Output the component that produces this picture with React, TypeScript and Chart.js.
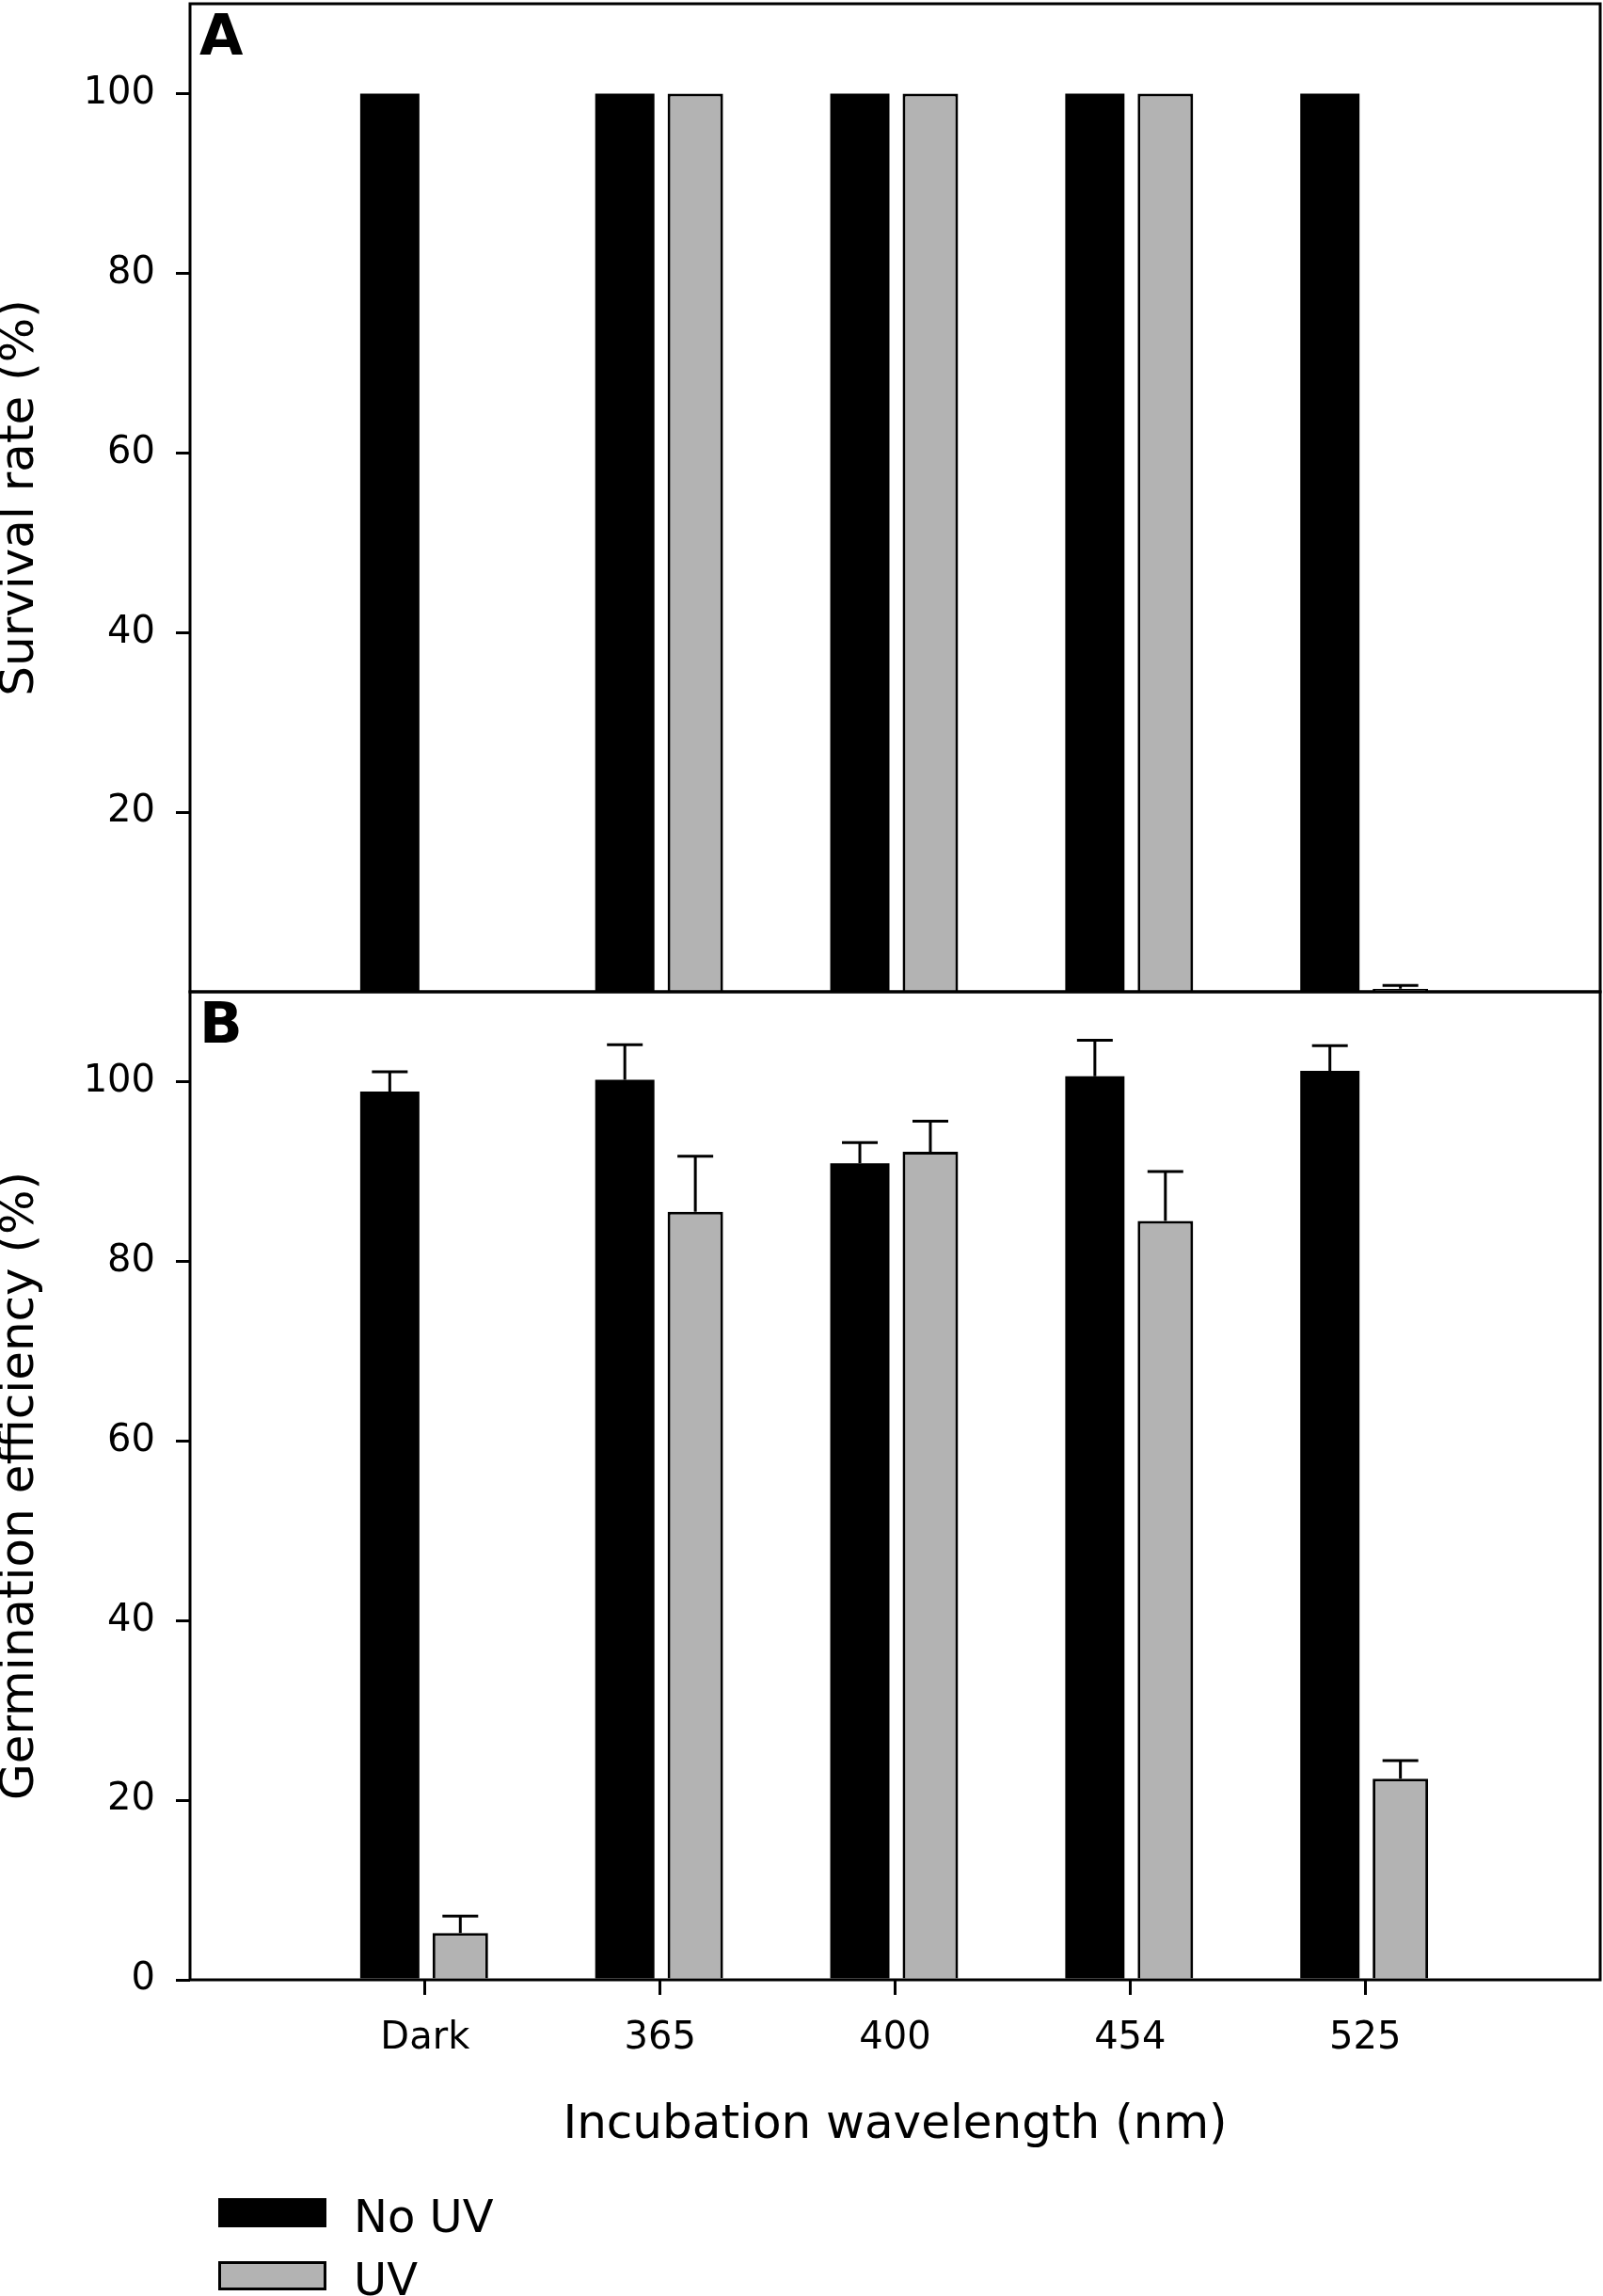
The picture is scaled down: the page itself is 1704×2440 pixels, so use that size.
import React, { useEffect, useRef } from 'react';
import { Chart, registerables } from 'chart.js';

Chart.register(...registerables);

// ---------- data ----------
const categories = ['Dark', '365', '400', '454', '525'];
const seriesNames = ['No UV', 'UV'];
const panelLabels = ['A', 'B'];
const axisTitles = ['Survival rate (%)', 'Germination efficiency (%)'];
const xTitle = 'Incubation wavelength (nm)';

const survivalNoUV = [100, 100, 100, 100, 100];
const survivalNoUVErr = [0, 0, 0, 0, 0];
const survivalUV = [null, 100, 100, 100, 0.35];
const survivalUVErr = [0, 0, 0, 0, 0.35];

const germNoUV = [98.9, 100.2, 90.9, 100.6, 101.2];
const germNoUVErr = [2.2, 3.9, 2.3, 4.0, 2.8];
const germUV = [5.2, 85.5, 92.2, 84.5, 22.4];
const germUVErr = [1.9, 6.2, 3.4, 5.5, 2.0];

const yTicksA = [20, 40, 60, 80, 100];
const yTicksB = [0, 20, 40, 60, 80, 100];
const yMin = 0;
const yMax = 110;

// ---------- styles ----------
const FONT = "'DejaVu Sans', 'Verdana', sans-serif";
const NO_UV_COLOR = '#000000';
const UV_COLOR = '#b3b3b3';
const W = 1704;

Chart.defaults.font.family = FONT;
Chart.defaults.color = '#000';

const xLabels = ['', ...categories, ''];
const pad = (arr: (number | null)[]) => [null, ...arr, null];

const framePlugin = {
  id: 'frame',
  afterDatasetsDraw(chart: any, _args: any, opts: any) {
    const { ctx, chartArea } = chart;
    const { left, top, right, bottom } = chartArea;
    ctx.save();
    ctx.strokeStyle = '#000';
    ctx.lineWidth = 3;
    ctx.strokeRect(left, top, right - left, bottom - top);
    ctx.fillStyle = '#000';
    ctx.font = `bold 60px ${FONT}`;
    ctx.textAlign = 'left';
    ctx.textBaseline = 'alphabetic';
    ctx.fillText(opts.label, left + 10, top + 54);
    ctx.restore();
  },
};

const errorBarPlugin = {
  id: 'errorBars',
  afterDatasetsDraw(chart: any) {
    const { ctx } = chart;
    const yScale = chart.scales.y;
    ctx.save();
    ctx.strokeStyle = '#000';
    ctx.lineWidth = 3;
    chart.data.datasets.forEach((ds: any, i: number) => {
      const meta = chart.getDatasetMeta(i);
      const errs = ds.errors;
      if (!errs) return;
      meta.data.forEach((el: any, j: number) => {
        const v = ds.data[j];
        const e = errs[j];
        if (v == null || !e) return;
        const yTop = yScale.getPixelForValue(v);
        const yErr = yScale.getPixelForValue(v + e);
        ctx.beginPath();
        ctx.moveTo(el.x, yTop);
        ctx.lineTo(el.x, yErr);
        ctx.moveTo(el.x - 19, yErr);
        ctx.lineTo(el.x + 19, yErr);
        ctx.stroke();
      });
    });
    ctx.restore();
  },
};

const legendPlugin = {
  id: 'stackLegend',
  afterDraw(chart: any, _args: any, opts: any) {
    if (!opts || !opts.show) return;
    const { ctx } = chart;
    ctx.save();
    chart.data.datasets.forEach((ds: any, i: number) => {
      const y = opts.y + i * opts.spacing;
      ctx.fillStyle = ds.backgroundColor;
      ctx.fillRect(opts.x, y, opts.boxWidth, opts.boxHeight);
      if (ds.borderWidth) {
        ctx.lineWidth = ds.borderWidth;
        ctx.strokeStyle = ds.borderColor;
        const h = ds.borderWidth / 2;
        ctx.strokeRect(opts.x + h, y + h, opts.boxWidth - 2 * h, opts.boxHeight - 2 * h);
      }
      ctx.fillStyle = '#000';
      ctx.font = `48px ${FONT}`;
      ctx.textAlign = 'left';
      ctx.textBaseline = 'alphabetic';
      ctx.fillText(ds.label, opts.textX, y + opts.baseline);
    });
    ctx.restore();
  },
};

function makeDatasets(noUV: (number | null)[], noUVErr: number[], uv: (number | null)[], uvErr: number[]) {
  return [
    {
      label: seriesNames[0],
      data: pad(noUV),
      errors: pad(noUVErr),
      backgroundColor: NO_UV_COLOR,
      borderColor: NO_UV_COLOR,
      borderWidth: 0,
      categoryPercentage: 0.6,
      barPercentage: 0.84,
    },
    {
      label: seriesNames[1],
      data: pad(uv),
      errors: pad(uvErr),
      backgroundColor: UV_COLOR,
      borderColor: '#000',
      borderWidth: 3,
      categoryPercentage: 0.6,
      barPercentage: 0.787,
    },
  ];
}

function yAxis(ticks: number[], title: string) {
  return {
    min: yMin,
    max: yMax,
    afterFit: (scale: any) => {
      scale.width = 202;
      scale.paddingTop = 0;
      scale.paddingBottom = 0;
    },
    afterBuildTicks: (scale: any) => {
      scale.ticks = ticks.map((v) => ({ value: v }));
    },
    ticks: {
      font: { size: 40, family: FONT },
      color: '#000',
      padding: 22,
    },
    grid: {
      display: true,
      drawOnChartArea: false,
      drawTicks: true,
      tickLength: 15,
      tickWidth: 3,
      tickColor: '#000',
      color: '#000',
      lineWidth: 3,
    },
    border: { display: false },
    title: {
      display: true,
      text: title,
      color: '#000',
      font: { size: 50, family: FONT, lineHeight: 0.88 },
      padding: 0,
    },
  };
}

function xAxis(show: boolean) {
  return {
    type: 'category',
    offset: false,
    display: show,
    afterBuildTicks: (scale: any) => {
      scale.ticks = scale.ticks.filter((t: any) => t.value >= 1 && t.value <= categories.length);
    },
    afterFit: (scale: any) => {
      if (show) scale.height = 200;
      scale.paddingLeft = 0;
      scale.paddingRight = 0;
    },
    ticks: {
      font: { size: 40, family: FONT },
      color: '#000',
      padding: 23,
      autoSkip: false,
      maxRotation: 0,
      minRotation: 0,
    },
    grid: {
      display: true,
      offset: false,
      drawOnChartArea: false,
      drawTicks: true,
      tickLength: 16,
      tickWidth: 3,
      tickColor: '#000',
      color: '#000',
      lineWidth: 3,
    },
    border: { display: false },
    title: {
      display: show,
      text: xTitle,
      color: '#000',
      font: { size: 50, family: FONT, lineHeight: 1.2 },
      padding: { top: 0, bottom: 15 },
    },
  };
}

export default function App() {
  const refA = useRef<HTMLCanvasElement | null>(null);
  const refB = useRef<HTMLCanvasElement | null>(null);

  useEffect(() => {
    if (!refA.current || !refB.current) return;
    const chartA = new Chart(refA.current, {
      type: 'bar',
      data: {
        labels: xLabels,
        datasets: makeDatasets(survivalNoUV, survivalNoUVErr, survivalUV, survivalUVErr) as any,
      },
      options: {
        responsive: false,
        animation: false,
        devicePixelRatio: 1,
        layout: { padding: { top: 4, right: 3, bottom: 6, left: 0 } },
        scales: { x: xAxis(false) as any, y: yAxis(yTicksA, axisTitles[0]) as any },
        plugins: {
          legend: { display: false },
          tooltip: { enabled: false },
          frame: { label: panelLabels[0] },
          stackLegend: { show: false },
        } as any,
      },
      plugins: [errorBarPlugin, framePlugin, legendPlugin],
    });

    const chartB = new Chart(refB.current, {
      type: 'bar',
      data: {
        labels: xLabels,
        datasets: makeDatasets(germNoUV, germNoUVErr, germUV, germUVErr) as any,
      },
      options: {
        responsive: false,
        animation: false,
        devicePixelRatio: 1,
        layout: { padding: { top: 24, right: 3, bottom: 136, left: 0 } },
        scales: { x: xAxis(true) as any, y: yAxis(yTicksB, axisTitles[1]) as any },
        plugins: {
          legend: { display: false },
          tooltip: { enabled: false },
          frame: { label: panelLabels[1] },
          stackLegend: {
            show: true,
            x: 232,
            y: 1306,
            spacing: 67,
            boxWidth: 115,
            boxHeight: 31,
            textX: 376,
            baseline: 36,
          },
        } as any,
      },
      plugins: [errorBarPlugin, framePlugin, legendPlugin],
    });

    return () => {
      chartA.destroy();
      chartB.destroy();
    };
  }, []);

  return (
    <div style={{ position: 'absolute', left: 0, top: 0, width: W, height: 2440, background: '#fff' }}>
      <canvas ref={refA} width={W} height={1060} style={{ position: 'absolute', left: 0, top: 0 }} />
      <canvas ref={refB} width={W} height={1410} style={{ position: 'absolute', left: 0, top: 1030 }} />
    </div>
  );
}
